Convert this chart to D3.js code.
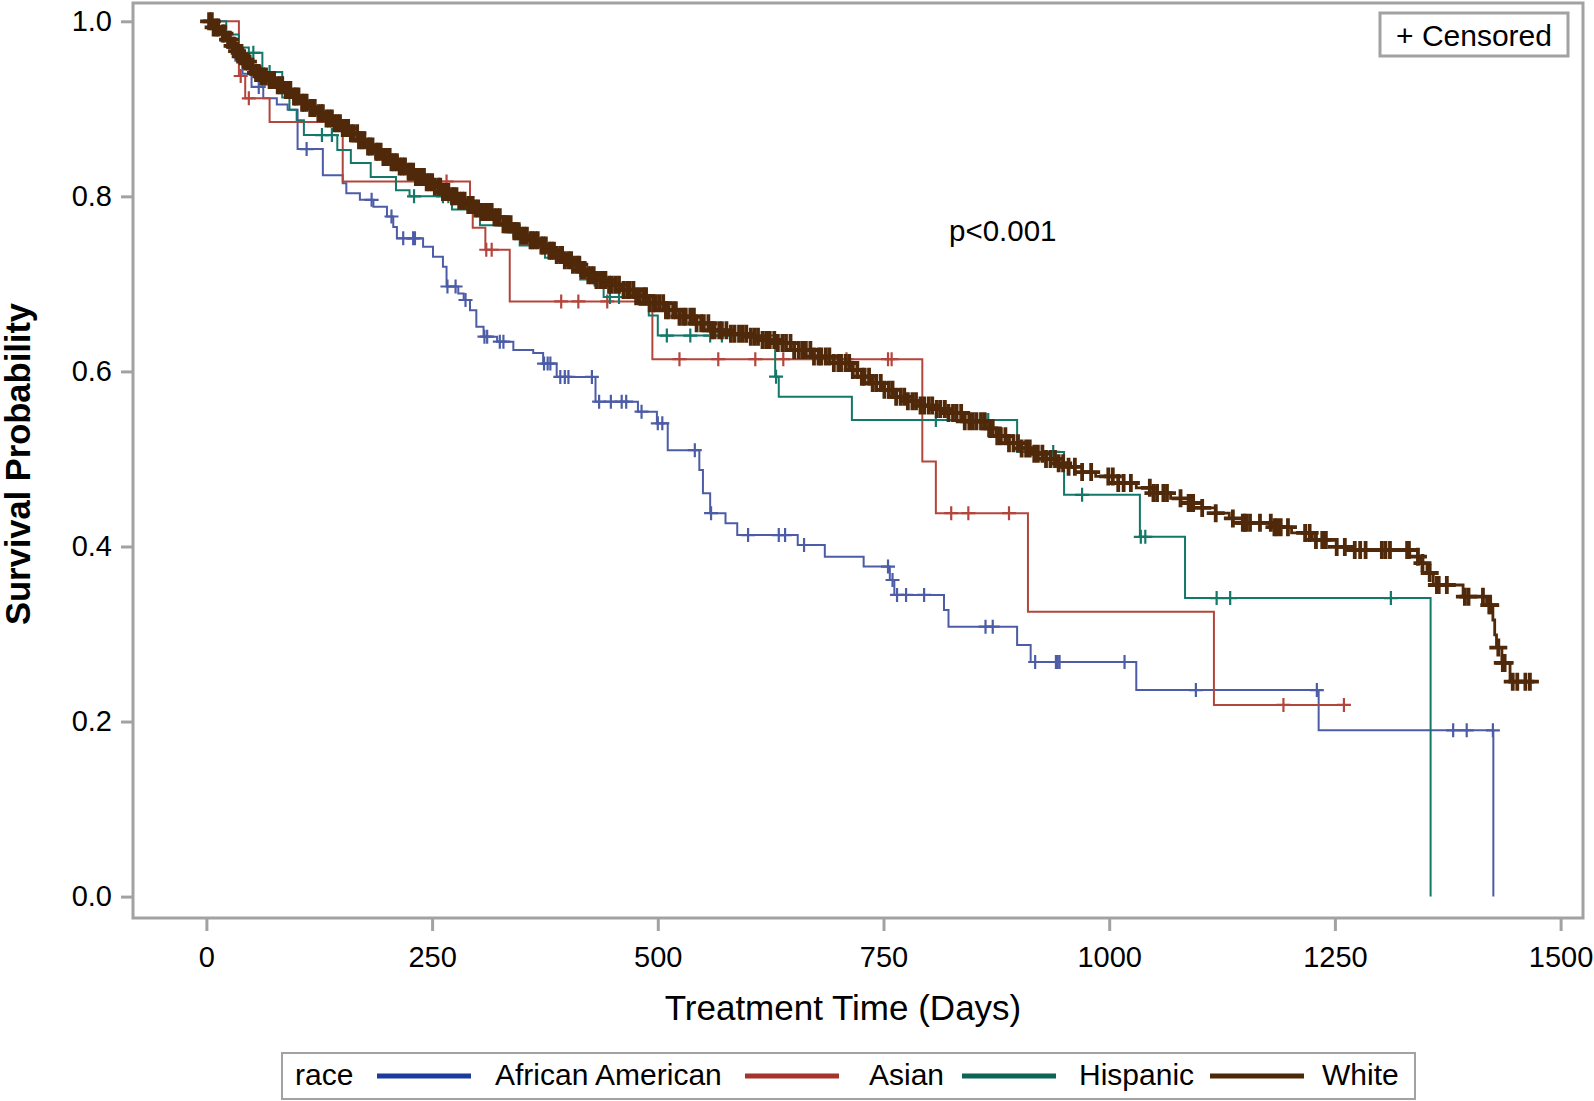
<!DOCTYPE html>
<html>
<head>
<meta charset="utf-8">
<script src="https://cdn.jsdelivr.net/npm/d3@7"></script>
<style>
body { margin: 0; background: #fff; }
text { font-family: "Liberation Sans", Arial, sans-serif; fill: #000; }
</style>
</head>
<body>
<div class="chart"></div>
<script>
var svgWidth = 1594;
var svgHeight = 1101;

// Kaplan-Meier steps: [day, survival after the event]
var aaSteps = [[0,1.0],[14,0.985],[24,0.97],[32,0.955],[40,0.94],[50,0.925],[63,0.912],[78,0.905],[90,0.899],[101,0.854],[129,0.824],[151,0.815],[155,0.8035],[170,0.796],[185,0.788],[200,0.777],[207,0.765],[211,0.752],[240,0.7425],[251,0.731],[262,0.7197],[266,0.697],[279,0.689],[285,0.6816],[292,0.670],[299,0.651],[307,0.6397],[322,0.634],[340,0.6245],[362,0.621],[373,0.609],[388,0.5937],[431,0.5654],[478,0.554],[499,0.5407],[511,0.510],[546,0.4874],[550,0.4608],[558,0.438],[575,0.4265],[588,0.413],[655,0.4017],[685,0.3883],[728,0.377],[757,0.3617],[762,0.3446],[817,0.3274],[822,0.3084],[898,0.2874],[913,0.268],[1030,0.236],[1232,0.190],[1425.5,0.0]];
var aaCensor = [30,58,111,183,205,218,229,231,267,276,287,308,311,325,329,374,378,381,392,397,401,427,435,448,460,465,482,500,505,541,559,600,634,641,662,755,760,765,775,795,863,871,918,941,943,945,1017,1096,1230,1381,1396,1425];

var asSteps = [[0,1.0],[36,0.9375],[43,0.912],[70,0.885],[151,0.817],[292,0.79],[295,0.764],[309,0.739],[336,0.680],[494,0.614],[793,0.497],[808,0.438],[910,0.3255],[1116,0.219]];
var asCensor = [38,47,251,266,310,316,393,412,444,524,567,608,639,709,755,759,825,844,889,1193,1260];

var hiSteps = [[0,1.0],[22,0.985],[36,0.97],[47,0.964],[62,0.942],[84,0.913],[92,0.899],[100,0.887],[108,0.870],[145,0.853],[160,0.838],[182,0.822],[210,0.807],[225,0.80],[272,0.785],[303,0.767],[347,0.744],[375,0.730],[414,0.705],[440,0.685],[480,0.676],[490,0.664],[500,0.641],[630,0.594],[634,0.571],[715,0.5445],[898,0.508],[950,0.459],[1034,0.411],[1084,0.341],[1356,0.0]];
var hiCensor = [52,70,128,139,230,262,268,300,430,447,457,510,536,558,571,631,808,846,863,866,938,970,1035,1040,1119,1134,1312];

var whSteps = [[0,1.0],[8,0.993],[15,0.986],[22,0.979],[28,0.972],[33,0.966],[37,0.96],[42,0.954],[47,0.948],[52,0.941],[60,0.937],[67,0.933],[76,0.927],[85,0.9215],[95,0.914],[104,0.907],[113,0.901],[122,0.895],[131,0.889],[140,0.8835],[150,0.878],[159,0.872],[169,0.864],[178,0.857],[187,0.851],[196,0.845],[205,0.839],[214,0.834],[223,0.828],[232,0.822],[242,0.816],[251,0.811],[260,0.805],[270,0.80],[279,0.795],[288,0.790],[297,0.786],[305,0.782],[318,0.776],[329,0.768],[340,0.760],[349,0.755],[358,0.750],[368,0.744],[377,0.738],[386,0.733],[395,0.727],[405,0.722],[414,0.716],[422,0.710],[431,0.7045],[445,0.699],[460,0.693],[475,0.686],[490,0.678],[507,0.670],[524,0.6625],[541,0.655],[558,0.647],[579,0.643],[600,0.6397],[615,0.636],[630,0.6324],[651,0.6245],[672,0.617],[694,0.6096],[715,0.6016],[726,0.594],[736,0.5867],[749,0.579],[762,0.571],[776,0.566],[790,0.561],[805,0.557],[821,0.5525],[840,0.543],[863,0.535],[875,0.526],[886,0.518],[900,0.512],[915,0.506],[930,0.500],[942,0.495],[955,0.491],[970,0.485],[985,0.480],[1010,0.4725],[1030,0.467],[1049,0.461],[1068,0.455],[1088,0.4497],[1103,0.444],[1118,0.438],[1133,0.432],[1148,0.427],[1183,0.422],[1202,0.4155],[1225,0.4075],[1252,0.3995],[1270,0.396],[1333,0.3883],[1345,0.381],[1352,0.3697],[1359,0.356],[1392,0.3426],[1418,0.333],[1425,0.316],[1427,0.299],[1429,0.2845],[1435,0.267],[1444,0.2455]];
var whCensor = [3,6,8,11,13,18,20,24,26,29,31,34,38,40,43,46,49,51,55,58,61,63,66,70,72,75,79,81,84,88,90,93,97,99,102,106,108,111,115,118,120,124,127,129,133,136,139,142,145,148,151,154,157,160,163,167,169,172,175,179,181,184,188,190,193,196,199,203,205,208,211,214,217,220,224,226,229,232,235,238,241,244,247,250,253,257,259,262,265,268,272,274,277,280,283,286,290,292,295,298,301,305,307,310,313,316,319,322,325,329,331,334,337,341,343,346,349,352,355,359,361,364,367,371,373,376,380,382,385,388,392,394,397,401,404,406,410,413,416,419,423,426,429,432,436,439,442,446,449,453,457,
  462,466,469,473,476,480,484,487,491,495,498,502,506,509,512,517,520,524,528,531,536,540,543,548,551,556,560,563,568,571,576,581,585,590,594,598,603,607,611,616,620,624,629,633,638,642,647,651,656,660,664,669,673,678,681,686,690,695,700,703,708,712,716,721,726,729,734,738,742,747,751,756,760,764,769,773,777,782,786,791,795,800,804,809,813,818,822,827,831,836,840,845,849,853,858,862,867,871,876,880,885,889,894,899,903,908,912,917,921,926,930,935,940,944,949,
  955,962,970,980,999,1004,1010,1016,1024,1045,1049,1053,1060,1064,1079,1088,1090,1093,1103,1118,1137,1148,1150,1152,1156,1167,1179,1183,1186,1190,1198,1217,1222,1229,1236,1240,1252,1261,1272,1278,1284,1302,1306,1311,1330,1331,1332,1342,1347,1355,1363,1365,1374,1394,1398,1414,1421,1422,1431,1436,1438,1447,1452,1461,1466];

var groups = ["African American", "Asian", "Hispanic", "White"];
var curveColors = ["#4c5ca6", "#b3463c", "#137868", "#50290a"];
var legendColors = ["#1a3c9e", "#a5352b", "#0b6456", "#4a2808"];
var xTicks = [0, 250, 500, 750, 1000, 1250, 1500];
var yTicks = [0, 0.2, 0.4, 0.6, 0.8, 1.0];

var series = [
    {steps: aaSteps, censor: aaCensor},
    {steps: asSteps, censor: asCensor},
    {steps: hiSteps, censor: hiCensor},
    {steps: whSteps, censor: whCensor}
];

var frame = {left: 133, top: 3, right: 1583, bottom: 918};
var axisGray = "#a2a2a2";

var svg = d3.select(".chart")
    .append("svg")
    .attr("width", svgWidth)
    .attr("height", svgHeight);

var xScale = d3.scaleLinear().domain([0, 1500]).range([206.4, 1560.6]);
var yScale = d3.scaleLinear().domain([0, 1]).range([896.6, 21.3]);

function stepValue(steps, t) {
    var v = steps[0][1];
    steps.forEach(function(s) {
        if (s[0] <= t) v = s[1];
    });
    return v;
}

// axes
var bottomAxis = d3.axisBottom(xScale)
    .tickValues(xTicks)
    .tickSize(13)
    .tickPadding(15)
    .tickFormat(d3.format("d"));
var leftAxis = d3.axisLeft(yScale)
    .tickValues(yTicks)
    .tickSize(12)
    .tickPadding(9)
    .tickFormat(d3.format(".1f"));

var xAxisG = svg.append("g")
    .attr("transform", `translate(0, ${frame.bottom})`)
    .call(bottomAxis);
var yAxisG = svg.append("g")
    .attr("transform", `translate(${frame.left}, 0)`)
    .call(leftAxis);

[xAxisG, yAxisG].forEach(function(g) {
    g.select(".domain").remove();
    g.selectAll(".tick line").attr("stroke", axisGray).attr("stroke-width", 3);
    g.selectAll(".tick text")
        .attr("font-size", "29px")
        .attr("font-family", "Liberation Sans, Arial, sans-serif")
        .attr("fill", "#000");
});

// frame
svg.append("rect")
    .attr("x", frame.left)
    .attr("y", frame.top)
    .attr("width", frame.right - frame.left)
    .attr("height", frame.bottom - frame.top)
    .attr("fill", "none")
    .attr("stroke", axisGray)
    .attr("stroke-width", 3);

// curves
var line = d3.line()
    .x(d => xScale(d[0]))
    .y(d => yScale(d[1]))
    .curve(d3.curveStepAfter);

var curvesGroup = svg.append("g");
series.forEach(function(s, i) {
    var pts = s.steps.slice();
    var last = pts[pts.length - 1];
    var lastCensor = d3.max(s.censor);
    if (lastCensor > last[0]) pts.push([lastCensor, last[1]]);
    var isWhite = i === 3;
    var half = isWhite ? 9 : 7;

    var g = curvesGroup.append("g");
    g.append("path")
        .datum(pts)
        .attr("d", line)
        .attr("fill", "none")
        .attr("stroke", curveColors[i])
        .attr("stroke-width", isWhite ? 2.8 : 2);

    g.selectAll("path.censor")
        .data(s.censor)
        .enter()
        .append("path")
        .attr("class", "censor")
        .attr("d", function(t) {
            var cx = xScale(t), cy = yScale(stepValue(s.steps, t));
            return `M${cx - half},${cy}H${cx + half}M${cx},${cy - half}V${cy + half}`;
        })
        .attr("fill", "none")
        .attr("stroke", curveColors[i])
        .attr("stroke-width", isWhite ? 3.8 : 2.2);
});

// p-value
svg.append("text")
    .attr("x", 949)
    .attr("y", 241)
    .attr("font-size", "29.5px")
    .text("p<0.001");

// censored key
svg.append("rect")
    .attr("x", 1380)
    .attr("y", 13)
    .attr("width", 188)
    .attr("height", 43)
    .attr("fill", "#fff")
    .attr("stroke", axisGray)
    .attr("stroke-width", 3);
svg.append("text")
    .attr("x", 1474)
    .attr("y", 46)
    .attr("text-anchor", "middle")
    .attr("font-size", "30px")
    .text("+ Censored");

// axis titles
svg.append("text")
    .attr("x", 843)
    .attr("y", 1020)
    .attr("text-anchor", "middle")
    .attr("font-size", "35px")
    .text("Treatment Time (Days)");

svg.append("text")
    .attr("transform", "translate(30, 464) rotate(-90)")
    .attr("text-anchor", "middle")
    .attr("font-size", "34.5px")
    .attr("font-weight", "bold")
    .text("Survival Probability");

// legend
var legendLineX = [377, 745, 962, 1210];
var legendTextX = [495, 869, 1079, 1322];

var legendG = svg.append("g");
legendG.append("rect")
    .attr("x", 282)
    .attr("y", 1053)
    .attr("width", 1133)
    .attr("height", 46)
    .attr("fill", "#fff")
    .attr("stroke", axisGray)
    .attr("stroke-width", 2);

legendG.append("text")
    .attr("x", 295)
    .attr("y", 1085)
    .attr("font-size", "30px")
    .text("race");

groups.forEach(function(name, i) {
    legendG.append("line")
        .attr("x1", legendLineX[i])
        .attr("x2", legendLineX[i] + 94)
        .attr("y1", 1076)
        .attr("y2", 1076)
        .attr("stroke", legendColors[i])
        .attr("stroke-width", 5);
    legendG.append("text")
        .attr("x", legendTextX[i])
        .attr("y", 1085)
        .attr("font-size", "30px")
        .text(name);
});
</script>
</body>
</html>
